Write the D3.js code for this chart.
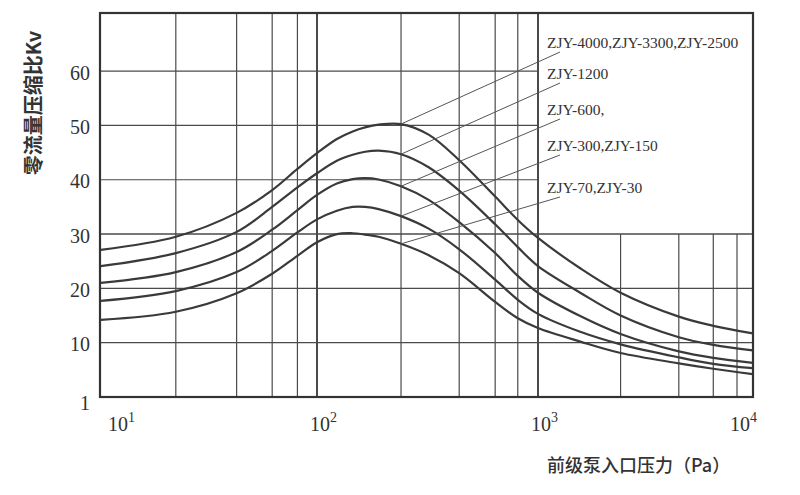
<!DOCTYPE html>
<html>
<head>
<meta charset="utf-8">
<script src="https://cdn.jsdelivr.net/npm/d3@7"></script>
<style>
  html, body { margin: 0; padding: 0; background: #ffffff; }
  svg { display: block; }
</style>
</head>
<body>
<svg id="chart" width="800" height="495"></svg>
<script>
// ---------- data ----------
const xPa = [8.5, 20, 40, 60, 80, 100, 123, 145, 165, 190, 240, 320, 440, 640, 810, 1000, 1630, 2600, 5100, 7600, 12000];
const kvA = [27.1, 29.5, 33.9, 38.1, 42.0, 44.9, 47.5, 48.9, 49.65, 50.15, 50.25, 48.3, 43.6, 36.9, 32.6, 29.3, 23.7, 19.2, 14.8, 13.1, 11.7];
const kvB = [24.1, 26.5, 30.4, 35.0, 38.6, 41.2, 43.5, 44.6, 45.15, 45.35, 44.7, 42.3, 38.0, 31.8, 27.6, 24.1, 19.2, 15.0, 11.0, 9.6, 8.6];
const kvC = [21.0, 23.0, 26.7, 30.8, 34.4, 37.2, 39.3, 40.1, 40.3, 40.05, 38.8, 36.3, 32.2, 26.5, 22.3, 19.2, 14.9, 11.6, 8.4, 7.2, 6.3];
const kvD = [17.7, 19.5, 23.0, 26.9, 30.3, 32.7, 34.3, 35.0, 35.0, 34.6, 33.3, 31.0, 27.2, 21.6, 17.9, 15.3, 12.0, 9.7, 7.3, 6.1, 5.3];
const kvE = [14.2, 15.7, 19.1, 22.7, 26.0, 28.5, 30.0, 30.15, 29.9, 29.5, 28.2, 26.1, 22.8, 17.5, 14.5, 12.7, 10.2, 8.1, 6.2, 5.2, 4.2];
const seriesValues = [kvA, kvB, kvC, kvD, kvE];
const seriesLabels = ["ZJY-4000,ZJY-3300,ZJY-2500", "ZJY-1200", "ZJY-600,", "ZJY-300,ZJY-150", "ZJY-70,ZJY-30"];
const leaderFromPa = 240;

const yTickValues = [0, 10, 20, 30, 40, 50, 60];
const yTickLabels = ["1", "10", "20", "30", "40", "50", "60"];
const xTickValues = [10, 100, 1000, 10000];
const xTickExponents = ["1", "2", "3", "4"];
const xGridFull = [20, 40, 60, 80, 100, 240, 440, 640, 810, 1000];
const xGridLowRight = [2600, 5100, 7600, 10000];
const xGridBold = [100, 1000];
const yGridFull = [10, 20, 30];
const yGridLeft = [40, 50, 60];
const yTitle = "零流量压缩比Kv";
const xTitle = "前级泵入口压力（Pa）";

// ---------- layout ----------
const L = 100, R = 753, T = 13, B = 397;
const svg = d3.select("#chart");
const x = d3.scaleLog().domain([10, 100, 1000, 10000]).range([115, 317, 538, 737]);
const y = d3.scaleLinear().domain([0, 70.7]).range([B, T]);
const ink = "#3a3a3a";
const serif = "'Liberation Serif', 'Times New Roman', serif";

// grid
const grid = svg.append("g");
grid.selectAll("line.vf").data(xGridFull).join("line")
  .attr("x1", d => x(d)).attr("x2", d => x(d)).attr("y1", T).attr("y2", B)
  .attr("stroke", "#4a4a4a").attr("stroke-width", d => xGridBold.includes(d) ? 2 : 1.2);
grid.selectAll("line.vr").data(xGridLowRight).join("line")
  .attr("x1", d => x(d)).attr("x2", d => x(d)).attr("y1", y(30)).attr("y2", B)
  .attr("stroke", "#4a4a4a").attr("stroke-width", 1.2);
grid.selectAll("line.hf").data(yGridFull).join("line")
  .attr("x1", L).attr("x2", R).attr("y1", d => y(d)).attr("y2", d => y(d))
  .attr("stroke", "#4a4a4a").attr("stroke-width", d => d === 30 ? 1.5 : 1.2);
grid.selectAll("line.hl").data(yGridLeft).join("line")
  .attr("x1", L).attr("x2", x(1000)).attr("y1", d => y(d)).attr("y2", d => y(d))
  .attr("stroke", "#4a4a4a").attr("stroke-width", 1.2);

// frame
svg.append("rect").attr("x", L).attr("y", T).attr("width", R - L).attr("height", B - T)
  .attr("fill", "none").attr("stroke", "#333").attr("stroke-width", 2.2);

// curves
const line = d3.line().x(d => x(d[0])).y(d => y(d[1])).curve(d3.curveCatmullRom.alpha(0.5));
svg.append("clipPath").attr("id", "clip").append("rect")
  .attr("x", L).attr("y", T).attr("width", R - L).attr("height", B - T);
svg.append("g").attr("clip-path", "url(#clip)")
  .selectAll("path").data(seriesValues).join("path")
  .attr("d", vals => line(xPa.map((p, i) => [p, vals[i]])))
  .attr("fill", "none").attr("stroke", ink).attr("stroke-width", 2.2);

// labels + leaders
const labelX = 547, labelBaselines = [48, 79, 115, 151, 193];
const lab = svg.append("g");
seriesLabels.forEach((t, i) => {
  const vals = seriesValues[i];
  const idx = xPa.indexOf(leaderFromPa);
  lab.append("line")
    .attr("x1", x(leaderFromPa)).attr("y1", y(vals[idx]))
    .attr("x2", labelX + 13).attr("y2", labelBaselines[i] + 4)
    .attr("stroke", "#555").attr("stroke-width", 1);
  lab.append("text").attr("x", labelX).attr("y", labelBaselines[i])
    .attr("font-family", serif).attr("font-size", 15.5).attr("fill", "#333").text(t);
});

// y axis
const yAxis = d3.axisLeft(y).tickValues(yTickValues)
  .tickFormat((d, i) => yTickLabels[i]).tickSize(0).tickPadding(10);
const gy = svg.append("g").attr("transform", `translate(${L},0)`).call(yAxis);
gy.select(".domain").remove();
gy.selectAll("text").attr("font-family", serif).attr("font-size", 20).attr("fill", "#333")
  .attr("dy", (d) => d === 0 ? "0.6em" : "0.4em");

// x axis
const xAxis = d3.axisBottom(x).tickValues(xTickValues).tickFormat("").tickSize(0).tickPadding(0);
const gx = svg.append("g").attr("transform", `translate(0,${B})`).call(xAxis);
gx.select(".domain").remove();
gx.selectAll(".tick text").each(function(d, i) {
  const t = d3.select(this)
    .attr("font-family", serif).attr("font-size", 20).attr("fill", "#333")
    .attr("text-anchor", "middle").attr("x", 6).attr("y", 34).attr("dy", 0);
  t.append("tspan").text("10");
  t.append("tspan").attr("dy", -9).attr("font-size", 14).text(xTickExponents[i]);
});

// titles
svg.append("text").attr("transform", "translate(41,103) rotate(-90)")
  .attr("text-anchor", "middle").attr("font-family", "'Noto Sans CJK SC', sans-serif")
  .attr("font-size", 20).attr("font-weight", 700).attr("fill", "#333").text(yTitle);
svg.append("text").attr("x", 547).attr("y", 472)
  .attr("font-family", "'Noto Sans CJK SC', sans-serif")
  .attr("font-size", 18).attr("font-weight", 500).attr("fill", "#333").text(xTitle);
</script>
</body>
</html>
